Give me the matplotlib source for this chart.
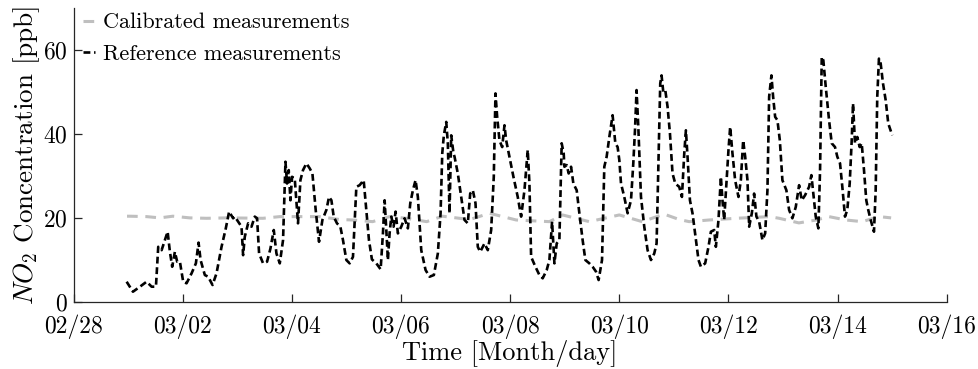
import numpy as np
import matplotlib
matplotlib.use("Agg")
import matplotlib.pyplot as plt

plt.rcParams['font.family'] = ['cmr10', 'DejaVu Serif']
plt.rcParams['mathtext.fontset'] = 'cm'
plt.rcParams['axes.formatter.use_mathtext'] = True

# x = days since 02/28 00:00
ref_day = [0.973, 1.089, 1.217, 1.339, 1.431, 1.510, 1.552, 1.614, 1.674, 1.724,
           1.766, 1.808, 1.857, 1.899, 1.949, 2.009, 2.071, 2.163, 2.242, 2.291,
           2.328, 2.406, 2.467, 2.547, 2.620, 2.712, 2.790, 2.851, 2.924, 2.955,
           3.016, 3.078, 3.107, 3.138, 3.199, 3.261, 3.321, 3.363, 3.400, 3.473,
           3.546, 3.608, 3.669, 3.718, 3.779, 3.839, 3.883, 3.912, 3.943, 3.974,
           4.004, 4.053, 4.113, 4.157, 4.205, 4.267, 4.328, 4.377, 4.437, 4.498,
           4.560, 4.633, 4.681, 4.725, 4.767, 4.827, 4.889, 4.937, 4.999, 5.059,
           5.120, 5.182, 5.242, 5.316, 5.365, 5.413, 5.467, 5.548, 5.627, 5.669,
           5.700, 5.731, 5.760, 5.791, 5.822, 5.864, 5.901, 5.943, 6.005, 6.066,
           6.126, 6.170, 6.218, 6.267, 6.309, 6.371, 6.450, 6.523, 6.602, 6.675,
           6.725, 6.756, 6.785, 6.829, 6.858, 6.889, 6.920, 6.962, 6.981, 7.041,
           7.103, 7.164, 7.224, 7.268, 7.316, 7.365, 7.407, 7.451, 7.530, 7.590,
           7.652, 7.700, 7.731, 7.762, 7.804, 7.854, 7.896, 7.927, 7.987, 8.060,
           8.139, 8.201, 8.262, 8.322, 8.353, 8.384, 8.463, 8.536, 8.596, 8.670,
           8.719, 8.768, 8.811, 8.853, 8.902, 8.944, 8.981, 8.994, 9.036, 9.072,
           9.116, 9.158, 9.219, 9.268, 9.328, 9.378, 9.451, 9.511, 9.574, 9.621,
           9.683, 9.725, 9.768, 9.817, 9.877, 9.927, 9.969, 10.000, 10.031, 10.091,
           10.152, 10.214, 10.256, 10.287, 10.316, 10.348, 10.397, 10.457, 10.518, 10.580,
           10.640, 10.683, 10.719, 10.750, 10.774, 10.805, 10.842, 10.884, 10.928, 10.975,
           11.025, 11.098, 11.147, 11.190, 11.220, 11.250, 11.294, 11.341, 11.403, 11.451,
           11.495, 11.573, 11.634, 11.678, 11.738, 11.769, 11.817, 11.861, 11.890, 11.921,
           11.963, 12.000, 12.031, 12.073, 12.122, 12.183, 12.227, 12.269, 12.306, 12.348,
           12.379, 12.428, 12.470, 12.512, 12.562, 12.622, 12.672, 12.714, 12.745, 12.787,
           12.818, 12.855, 12.897, 12.941, 12.988, 13.061, 13.111, 13.171, 13.233, 13.294,
           13.343, 13.403, 13.477, 13.519, 13.555, 13.599, 13.647, 13.678, 13.709, 13.738,
           13.782, 13.843, 13.892, 13.952, 13.994, 14.044, 14.086, 14.135, 14.177, 14.221,
           14.258, 14.282, 14.318, 14.360, 14.404, 14.441, 14.483, 14.525, 14.561, 14.606,
           14.666, 14.697, 14.726, 14.757, 14.789, 14.831, 14.880, 14.928, 14.959, 15.001]
ref_no2 = [4.77, 2.38, 3.58, 4.77, 3.58, 3.58, 13.1, 12.3, 14.7, 16.7,
           11.9, 8.34, 11.9, 9.54, 9.54, 4.77, 4.39, 6.77, 9.15, 14.1,
           9.94, 6.36, 5.96, 3.98, 6.77, 13.1, 17.5, 21.5, 19.9, 20.3,
           19.1, 17.9, 11.1, 15.5, 18.7, 17.9, 20.3, 19.9, 11.5, 9.15,
           9.54, 12.7, 17.1, 11.5, 9.15, 14.7, 33.4, 28.2, 31.4, 24.2,
           29.8, 29.4, 18.7, 29.0, 31.4, 33.0, 31.8, 30.6, 21.9, 14.3,
           19.5, 21.9, 25.0, 24.2, 20.3, 18.7, 17.9, 14.7, 9.94, 9.15,
           10.7, 27.4, 27.8, 29.0, 21.9, 14.7, 10.1, 9.15, 7.72, 16.3,
           24.2, 17.1, 9.94, 16.3, 20.3, 17.9, 21.5, 16.3, 17.9, 19.9,
           17.5, 23.5, 26.6, 29.0, 25.0, 12.3, 7.56, 5.96, 6.36, 11.5,
           21.1, 35.4, 39.7, 42.9, 37.8, 21.1, 39.7, 35.4, 34.6, 30.6,
           25.0, 19.5, 18.7, 25.8, 26.6, 23.5, 13.1, 11.9, 13.9, 12.3,
           17.1, 29.8, 49.7, 44.1, 38.5, 36.9, 42.1, 38.5, 34.6, 29.8,
           25.0, 20.3, 26.6, 36.2, 28.2, 10.7, 8.34, 6.36, 5.58, 7.56,
           9.94, 19.1, 9.15, 13.9, 14.7, 37.8, 35.4, 32.2, 32.6, 30.6,
           32.2, 28.2, 26.6, 21.1, 14.7, 9.94, 9.15, 8.34, 7.15, 5.17,
           9.94, 32.2, 34.6, 39.3, 44.5, 37.8, 36.9, 33.8, 28.2, 25.0,
           21.1, 24.2, 33.0, 40.9, 50.5, 41.7, 25.0, 17.9, 12.3, 9.94,
           11.5, 13.9, 34.6, 52.1, 54.0, 50.1, 50.5, 46.5, 40.1, 30.6,
           28.2, 27.4, 25.0, 35.4, 40.9, 34.6, 24.2, 21.1, 14.7, 9.94,
           8.34, 9.15, 13.1, 16.7, 17.1, 13.1, 19.5, 29.8, 24.2, 19.5,
           28.2, 36.2, 41.7, 35.4, 29.0, 25.0, 29.0, 38.5, 34.6, 29.0,
           17.9, 21.1, 25.8, 20.3, 19.1, 14.7, 16.3, 26.6, 48.9, 54.0,
           48.9, 44.1, 43.3, 38.5, 29.0, 26.6, 21.9, 19.9, 22.6, 27.8,
           24.2, 25.4, 27.4, 30.2, 25.8, 20.3, 17.5, 31.4, 58.4, 57.6,
           51.3, 43.3, 37.8, 36.9, 34.6, 33.0, 27.4, 20.3, 21.9, 28.2,
           38.5, 47.3, 37.8, 39.3, 36.9, 37.8, 31.4, 24.2, 21.9, 19.5,
           16.7, 26.6, 48.9, 58.0, 56.8, 52.1, 48.1, 42.5, 41.3, 39.7]

cal_day = [0.98, 1.03, 1.34, 1.58, 1.82, 2.13, 2.44, 2.81, 3.47, 3.78,
           4.09, 4.51, 4.88, 5.11, 5.48, 5.79, 6.10, 6.47, 6.76, 7.26,
           7.62, 8.11, 8.72, 8.96, 9.45, 10.00, 10.42, 10.82, 11.10, 11.28,
           11.65, 12.14, 12.75, 12.93, 13.29, 13.61, 13.84, 14.15, 14.45, 14.76,
           14.98]
cal_no2 = [20.4, 20.4, 20.3, 20.0, 20.4, 20.0, 19.9, 20.0, 19.9, 20.3,
           20.3, 20.3, 19.6, 19.5, 19.1, 20.3, 19.9, 19.1, 20.4, 19.6,
           21.1, 19.5, 19.1, 20.7, 19.1, 20.7, 19.1, 20.9, 19.6, 19.1,
           19.5, 19.9, 20.3, 19.9, 18.8, 19.5, 20.3, 19.5, 19.1, 20.3,
           20.0]

tick_days = [0, 2, 4, 6, 8, 10, 12, 14, 16]
tick_labels = ['02/28', '03/02', '03/04', '03/06', '03/08', '03/10', '03/12', '03/14', '03/16']

fig = plt.figure(figsize=(9.79, 3.69), dpi=100)
ax = fig.add_axes([0.0751, 0.1824, 0.892, 0.795])

ax.plot(cal_day, cal_no2, color=(0.75, 0.75, 0.75), linewidth=2.2,
        linestyle=(0, (3.5, 2.5)), label='Calibrated measurements')
ax.plot(ref_day, ref_no2, color='k', linewidth=1.9,
        linestyle=(0, (2.6, 1.4)), label='Reference measurements')

ax.set_xlim(0, 16)
ax.set_ylim(0, 70)
ax.set_xticks(tick_days)
ax.set_xticklabels(tick_labels)
ax.set_yticks([0, 20, 40, 60])

for s in ['top', 'right']:
    ax.spines[s].set_visible(False)
for s in ['left', 'bottom']:
    ax.spines[s].set_color('#262626')
    ax.spines[s].set_linewidth(0.9)
ax.tick_params(direction='in', length=6, width=0.9, color='#262626', labelsize=17)
ax.tick_params(axis='x', pad=9)
ax.tick_params(axis='y', pad=4)

ax.set_xlabel('Time [Month/day]', fontsize=19, labelpad=1)
ax.set_ylabel(r'$NO_2$ Concentration [ppb]', fontsize=19.5, labelpad=1)

ax.legend(loc='upper left', bbox_to_anchor=(0.011, 0.985), frameon=False,
          fontsize=16, handlelength=0.55, handletextpad=0.35, labelspacing=0.55,
          borderaxespad=0, borderpad=0)

fig.savefig('out.png', dpi=100)
